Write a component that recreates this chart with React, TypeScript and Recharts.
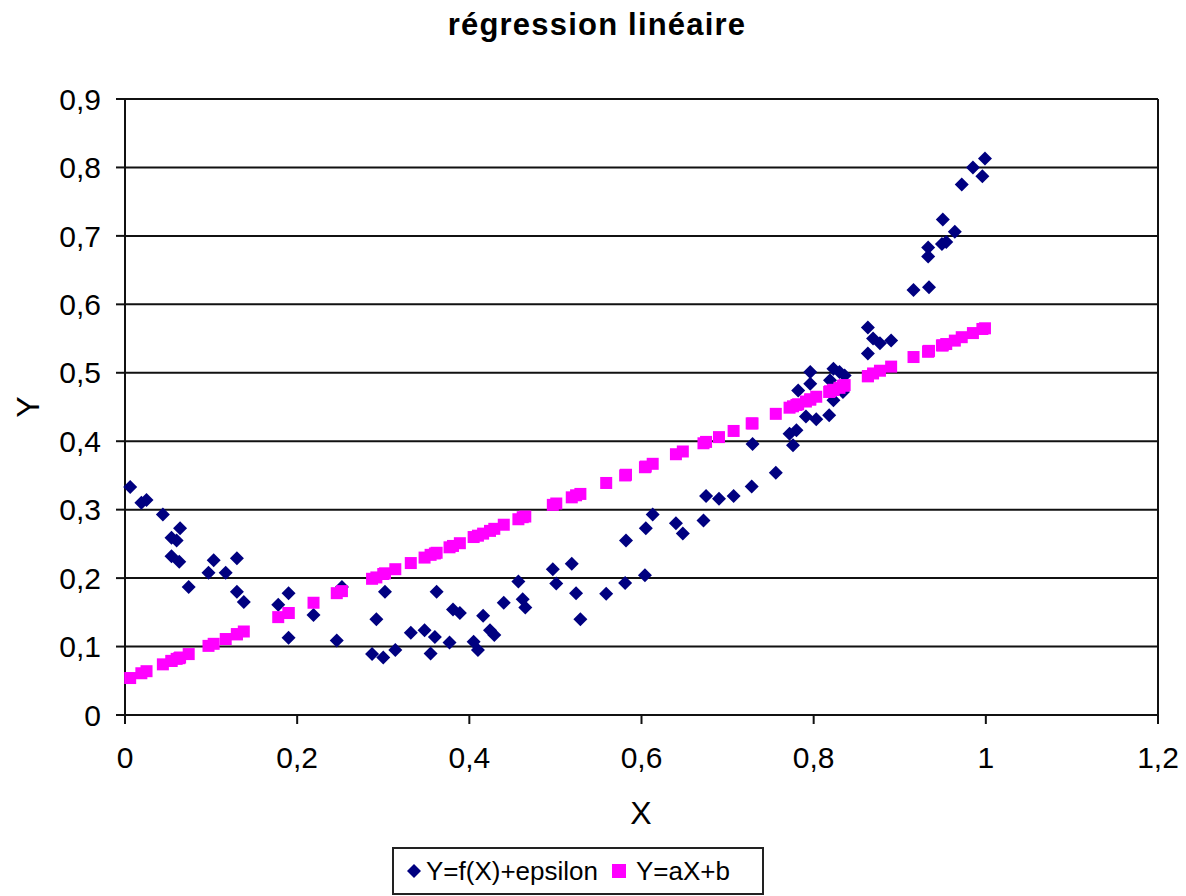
import React from "react";
import {
  ScatterChart,
  Scatter,
  XAxis,
  YAxis,
  CartesianGrid,
  ReferenceLine,
  Legend,
} from "recharts";

// X values (shared by both series: the fitted line is evaluated at each observation)
const xValues = [
  0.006, 0.019, 0.025, 0.044, 0.054, 0.054, 0.06, 0.063, 0.064, 0.074, 0.097, 0.103,
  0.117, 0.13, 0.13, 0.138, 0.178, 0.19, 0.19, 0.219, 0.246, 0.252, 0.287, 0.292,
  0.3, 0.302, 0.314, 0.332, 0.348, 0.355, 0.36, 0.362, 0.377, 0.381, 0.389, 0.405,
  0.41, 0.416, 0.424, 0.429, 0.44, 0.457, 0.462, 0.465, 0.497, 0.501, 0.519, 0.524,
  0.529, 0.559, 0.581, 0.582, 0.604, 0.605, 0.613, 0.64, 0.648, 0.672, 0.675, 0.69,
  0.707, 0.728, 0.729, 0.756, 0.772, 0.776, 0.78, 0.782, 0.791, 0.796, 0.796, 0.803,
  0.818, 0.819, 0.823, 0.823, 0.83, 0.834, 0.836, 0.863, 0.863, 0.869, 0.877, 0.89,
  0.916, 0.933, 0.933, 0.934, 0.949, 0.95, 0.954, 0.964, 0.972, 0.985, 0.996, 0.999,
];

// Y=f(X)+epsilon
const observedY = [
  0.333, 0.31, 0.314, 0.293, 0.259, 0.232, 0.255, 0.224, 0.273, 0.187, 0.208, 0.226,
  0.208, 0.229, 0.18, 0.165, 0.161, 0.178, 0.113, 0.146, 0.109, 0.187, 0.089, 0.14,
  0.084, 0.18, 0.095, 0.12, 0.124, 0.09, 0.114, 0.18, 0.106, 0.154, 0.149, 0.107,
  0.095, 0.145, 0.124, 0.117, 0.164, 0.195, 0.169, 0.157, 0.213, 0.192, 0.221, 0.178,
  0.14, 0.177, 0.193, 0.255, 0.204, 0.273, 0.293, 0.28, 0.265, 0.284, 0.32, 0.316,
  0.32, 0.334, 0.396, 0.354, 0.411, 0.394, 0.416, 0.474, 0.436, 0.501, 0.484, 0.432,
  0.438, 0.489, 0.46, 0.506, 0.501, 0.472, 0.496, 0.566, 0.528, 0.55, 0.543, 0.547,
  0.621, 0.683, 0.67, 0.625, 0.688, 0.724, 0.691, 0.706, 0.775, 0.8, 0.787, 0.813,
];

// Y=aX+b
const fittedY = [
  0.054, 0.061, 0.064, 0.074, 0.079, 0.079, 0.082, 0.083, 0.084, 0.089, 0.101, 0.104,
  0.111, 0.118, 0.118, 0.122, 0.143, 0.149, 0.149, 0.164, 0.178, 0.181, 0.199, 0.201,
  0.206, 0.207, 0.213, 0.222, 0.23, 0.234, 0.236, 0.237, 0.245, 0.247, 0.251, 0.26,
  0.262, 0.265, 0.269, 0.272, 0.278, 0.286, 0.289, 0.29, 0.307, 0.309, 0.318, 0.321,
  0.323, 0.339, 0.35, 0.351, 0.362, 0.363, 0.367, 0.381, 0.385, 0.397, 0.399, 0.406,
  0.415, 0.426, 0.426, 0.44, 0.449, 0.451, 0.453, 0.454, 0.458, 0.461, 0.461, 0.465,
  0.472, 0.473, 0.475, 0.475, 0.478, 0.481, 0.482, 0.495, 0.495, 0.499, 0.503, 0.509,
  0.523, 0.531, 0.531, 0.532, 0.54, 0.54, 0.542, 0.547, 0.552, 0.558, 0.564, 0.565,
];

const xTicks = [0, 0.2, 0.4, 0.6, 0.8, 1, 1.2];
const yTicks = [0, 0.1, 0.2, 0.3, 0.4, 0.5, 0.6, 0.7, 0.8, 0.9];

const NAVY = "#000080";
const MAGENTA = "#ff00ff";
const FONT = '"Liberation Sans", Arial, sans-serif';

const observed = xValues.map((x, i) => ({ x, y: observedY[i] }));
const fitted = xValues.map((x, i) => ({ x, y: fittedY[i] }));

const fmt = (v: number) => String(v).replace(".", ",");

const Diamond = (props: any) => {
  const { cx, cy } = props;
  if (cx == null || cy == null) return null;
  const r = 7;
  return <path d={`M${cx},${cy - r}L${cx + r},${cy}L${cx},${cy + r}L${cx - r},${cy}Z`} fill={NAVY} />;
};

const Square = (props: any) => {
  const { cx, cy } = props;
  if (cx == null || cy == null) return null;
  return <rect x={cx - 6} y={cy - 6} width={12} height={12} fill={MAGENTA} />;
};

function LegendBox() {
  return (
    <div
      style={{
        width: 372,
        height: 48,
        boxSizing: "border-box",
        border: "2px solid #222",
        background: "#fff",
        display: "flex",
        alignItems: "center",
        fontFamily: FONT,
        fontSize: 26,
        color: "#000",
        paddingLeft: 12,
      }}
    >
      <svg width={16} height={16} style={{ marginRight: 4 }}>
        <path d="M8,1L15,8L8,15L1,8Z" fill={NAVY} />
      </svg>
      <span>Y=f(X)+epsilon</span>
      <svg width={14} height={14} style={{ marginLeft: 14, marginRight: 10 }}>
        <rect x={0} y={0} width={14} height={14} fill={MAGENTA} />
      </svg>
      <span>Y=aX+b</span>
    </div>
  );
}

export default function App() {
  return (
    <div style={{ position: "absolute", left: 0, top: 0, width: 1186, height: 896, background: "#fff" }}>
      <div
        style={{
          position: "absolute",
          top: 7,
          left: 0,
          width: 1194,
          textAlign: "center",
          fontFamily: FONT,
          fontWeight: "bold",
          fontSize: 31,
          letterSpacing: 1.2,
        }}
      >
        régression linéaire
      </div>
      <ScatterChart width={1186} height={896} margin={{ top: 99, right: 28, left: 25, bottom: 51 }}>
        <CartesianGrid vertical={false} stroke="#111" strokeWidth={2} />
        <XAxis
          type="number"
          dataKey="x"
          domain={[0, 1.2]}
          ticks={xTicks}
          tickFormatter={fmt}
          height={130}
          tickSize={9}
          tickMargin={23}
          stroke="#111"
          strokeWidth={2}
          tick={{ fontSize: 30, fill: "#000", fontFamily: FONT }}
          label={{
            content: () => (
              <text x={641} y={824} textAnchor="middle" fontSize={32} fontFamily={FONT} fill="#000">
                X
              </text>
            ),
          }}
        />
        <YAxis
          type="number"
          dataKey="y"
          domain={[0, 0.9]}
          ticks={yTicks}
          tickFormatter={fmt}
          width={100}
          tickSize={9}
          tickMargin={15}
          stroke="#111"
          strokeWidth={2}
          tick={{ fontSize: 30, fill: "#000", fontFamily: FONT }}
          label={{
            content: () => (
              <text
                x={28}
                y={407}
                transform="rotate(-90 28 407)"
                textAnchor="middle"
                dominantBaseline="central"
                fontSize={32}
                fontFamily={FONT}
                fill="#000"
              >
                Y
              </text>
            ),
          }}
        />
        <ReferenceLine x={1.2} stroke="#111" strokeWidth={2} />
        <Legend
          layout="horizontal"
          verticalAlign="middle"
          align="center"
          wrapperStyle={{ left: 392, top: 847, width: 372 }}
          content={() => <LegendBox />}
        />
        <Scatter name="Y=f(X)+epsilon" data={observed} shape={Diamond} isAnimationActive={false} />
        <Scatter name="Y=aX+b" data={fitted} shape={Square} isAnimationActive={false} />
      </ScatterChart>
    </div>
  );
}
